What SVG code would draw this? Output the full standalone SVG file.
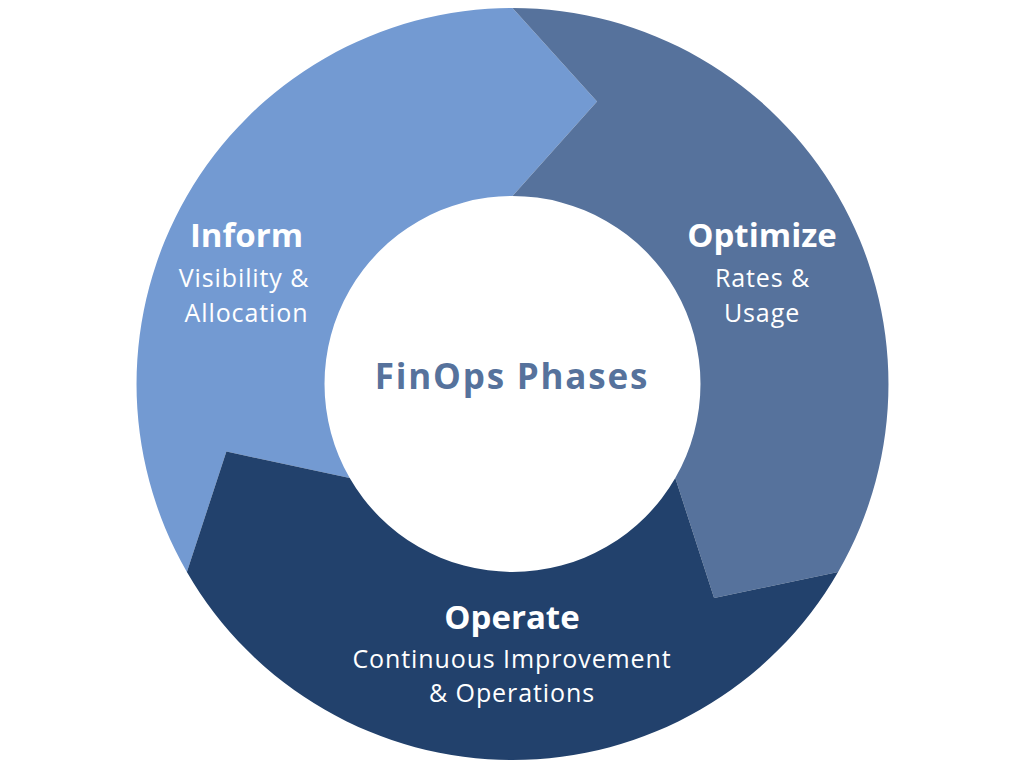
<svg xmlns="http://www.w3.org/2000/svg" width="1024" height="768" viewBox="0 0 1024 768">
  <style>
    .title { font-family: "Open Sans", "Liberation Sans", sans-serif; font-weight: 700; font-size: 33px; fill: #ffffff; text-anchor: middle; }
    .sub { font-family: "Open Sans", "Liberation Sans", sans-serif; font-weight: 400; font-size: 25px; fill: #ffffff; text-anchor: middle; letter-spacing: 0.9px; }
    .center { font-family: "Open Sans", "Liberation Sans", sans-serif; font-weight: 700; font-size: 35px; fill: #56729c; text-anchor: middle; letter-spacing: 1.8px; }
  </style>
  <rect width="1024" height="768" fill="#ffffff"/>
  <g id="inform">
    <path d="M186.9,572 A376,376 0 0 1 512.5,8 L597,101.5 L512.5,196 A188,188 0 0 0 349.7,478 L226.4,451.6 Z" fill="#739ad2"/>
    <text class="title" x="246.5" y="247">Inform</text>
    <text class="sub" x="244" y="287">Visibility &amp;</text>
    <text class="sub" x="246.5" y="322">Allocation</text>
  </g>
  <g id="optimize">
    <path d="M512.5,8 A376,376 0 0 1 838.1,572 L714.1,598 L675.3,478 A188,188 0 0 0 512.5,196 L597,101.5 Z" fill="#56729c"/>
    <text class="title" x="762" y="247">Optimize</text>
    <text class="sub" x="762.5" y="287">Rates &amp;</text>
    <text class="sub" x="762" y="322">Usage</text>
  </g>
  <g id="operate">
    <path d="M838.1,572 A376,376 0 0 1 186.9,572 L226.4,451.6 L349.7,478 A188,188 0 0 0 675.3,478 L714.1,598 Z" fill="#22416c"/>
    <text class="title" x="512" y="629">Operate</text>
    <text class="sub" x="512" y="668">Continuous Improvement</text>
    <text class="sub" x="512" y="702">&amp; Operations</text>
  </g>
  <g id="hub">
    <text class="center" x="512" y="389">FinOps Phases</text>
  </g>
</svg>
